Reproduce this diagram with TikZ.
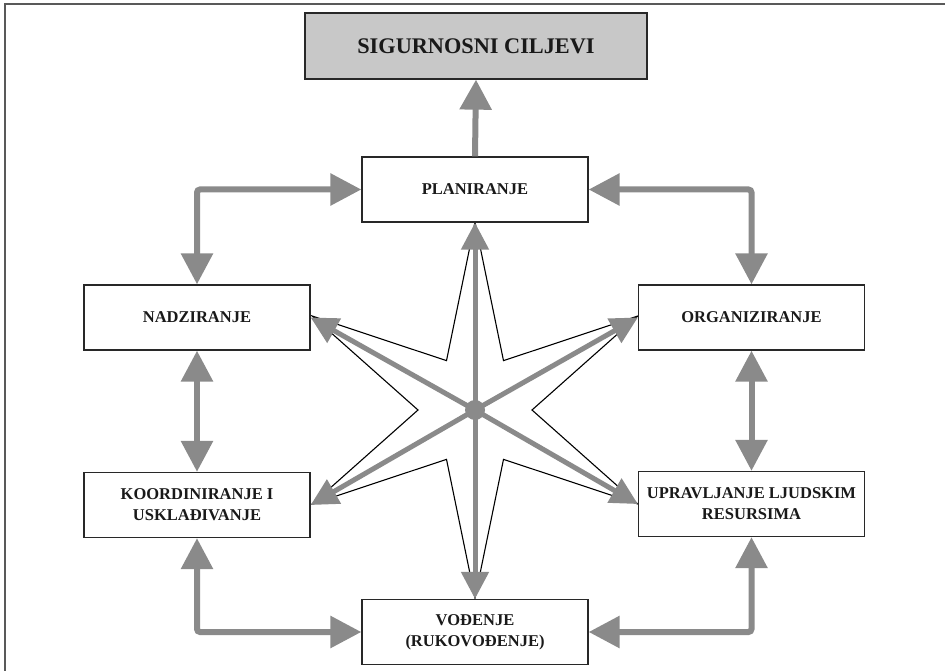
\documentclass[tikz,border=0pt]{standalone}
\usepackage{fontspec}
\setmainfont{Liberation Serif}
\usetikzlibrary{arrows.meta}
\definecolor{flowgray}{RGB}{138,138,138}
\definecolor{titlefill}{RGB}{200,200,200}
\definecolor{boxline}{RGB}{40,40,40}
\definecolor{textdark}{RGB}{25,25,25}
\tikzset{
  unitbox/.style={draw=boxline, line width=1.3pt, fill=white, minimum width=226pt,
    minimum height=65pt, inner sep=0pt, align=center, text=textdark,
    font=\bfseries\fontsize{16.5}{21}\selectfont},
  titlebox/.style={draw=boxline, line width=1.3pt, fill=titlefill, minimum width=342pt,
    minimum height=66pt, inner sep=0pt, text=textdark,
    font=\bfseries\fontsize{22.3}{26}\selectfont},
  linkarrow/.style={draw=flowgray, line width=6pt, rounded corners=3pt,
    {Triangle[width=31pt,length=31pt]}-{Triangle[width=31pt,length=31pt]}},
  uparrow/.style={draw=flowgray, line width=6pt, -{Triangle[width=31pt,length=30pt]}},
  spoke/.style={draw=flowgray, line width=5pt, -{Triangle[width=27pt,length=27pt]}},
  staredge/.style={draw=black, line width=1.1pt, line join=miter},
  frameline/.style={draw=black!65, line width=1.8pt}
}
\begin{document}
\begin{tikzpicture}[x=1pt,y=-1pt]
\useasboundingbox (0,0) rectangle (945,671);

% partial page frame
\draw[frameline] (5,671) -- (5,4) -- (945,4);

% six-pointed star outline behind the spokes
\coordinate (c) at (475,410);
\draw[staredge] ([shift={(90:188)}]c)
  \foreach \k in {0,...,5} {
    -- ([shift={(60*\k+120:57)}]c) -- ([shift={(60*\k+150:188)}]c)
  } -- cycle;

% boxes
\node[titlebox] (goal) at (476,46) {SIGURNOSNI CILJEVI};
\node[unitbox] (plan) at (475,189.5) {PLANIRANJE};
\node[unitbox] (nadz) at (197,317.5) {NADZIRANJE};
\node[unitbox] (org)  at (751.5,317.5) {ORGANIZIRANJE};
\node[unitbox] (koord) at (197,505) {KOORDINIRANJE I\\USKLAĐIVANJE};
\node[unitbox] (upr)  at (751.5,504) {UPRAVLJANJE LJUDSKIM\\RESURSIMA};
\node[unitbox] (vod)  at (475,632) {VOĐENJE\\(RUKOVOĐENJE)};

% hub and spokes
\fill[flowgray] (c) circle (10pt);
\node[inner sep=0pt, minimum size=0pt] (hub) at (c) {};
\draw[spoke] (hub) -- (plan.south);
\draw[spoke] (hub) -- (vod.north);
\draw[spoke] (hub) -- (nadz.east);
\draw[spoke] (hub) -- (org.west);
\draw[spoke] (hub) -- (koord.east);
\draw[spoke] (hub) -- (upr.west);

% outer ring of links
\draw[uparrow] (plan.north) -- (goal.south);
\draw[linkarrow] (nadz.north) |- (plan.west);
\draw[linkarrow] (org.north) |- (plan.east);
\draw[linkarrow] (nadz.south) -- (koord.north);
\draw[linkarrow] (org.south) -- (upr.north);
\draw[linkarrow] (koord.south) |- (vod.west);
\draw[linkarrow] (upr.south) |- (vod.east);
\end{tikzpicture}
\end{document}
